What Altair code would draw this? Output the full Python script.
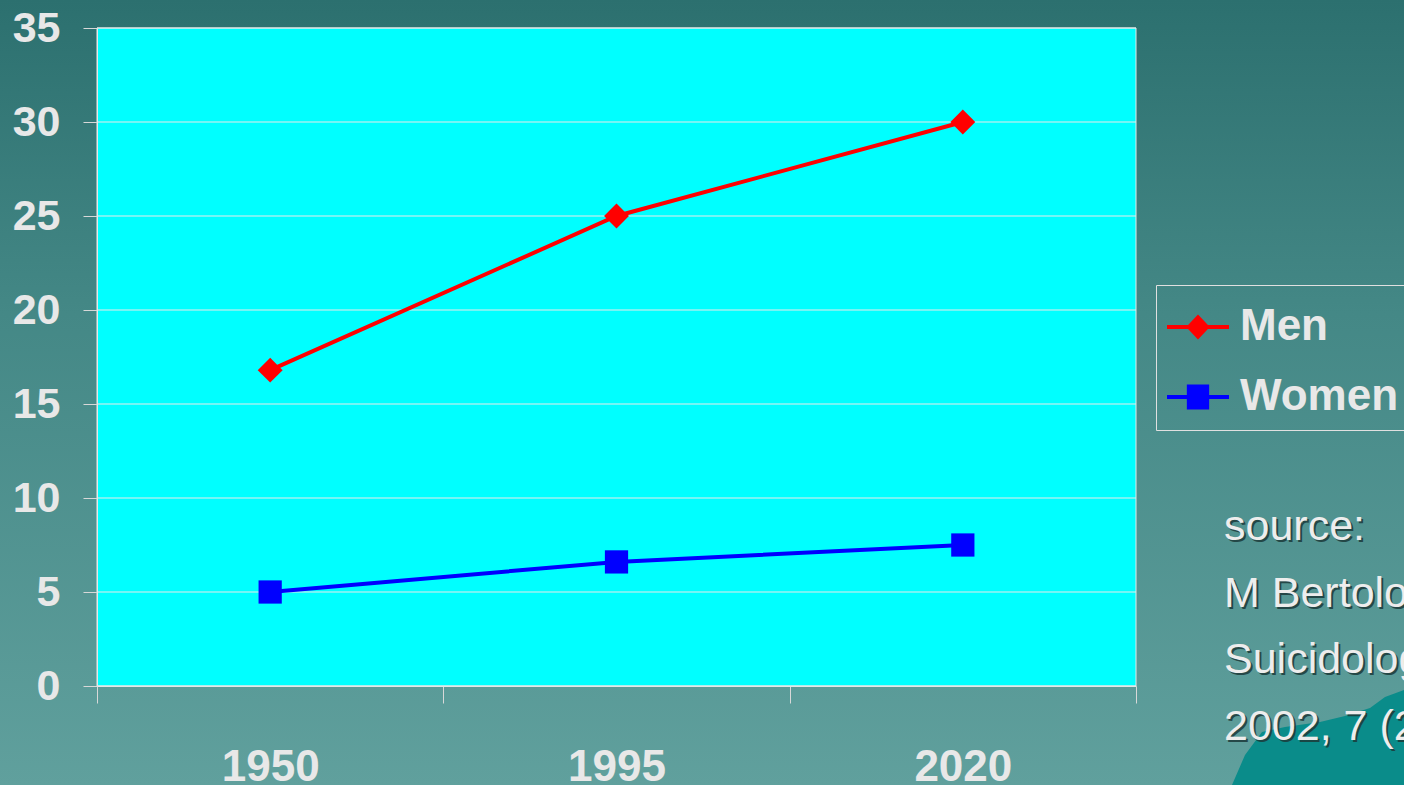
import altair as alt
import pandas as pd

years = ["1950", "1995", "2020"]
men = [16.8, 25.0, 30.0]
women = [5.0, 6.6, 7.5]
series_names = ["Men", "Women"]
series_colors = ["#FF0000", "#0000FF"]
y_ticks = [0, 5, 10, 15, 20, 25, 30, 35]
source_lines = ["source:", "M Bertolote,", "Suicidology", "2002, 7 (2)"]

rows = []
for yr, v in zip(years, men):
    rows.append({"year": yr, "series": "Men", "value": v})
for yr, v in zip(years, women):
    rows.append({"year": yr, "series": "Women", "value": v})
df = pd.DataFrame(rows)
grid_df = pd.DataFrame({"g": y_ticks})

W, H = 1039, 658
PL, PT = 97, 28
TOTAL_W, TOTAL_H = 1404, 785

BOLD_FONT = "Liberation Sans, Arial"
LABEL_COLOR = "#E8E8E8"

one = alt.Data(values=[{}])

bg = alt.Chart(one).mark_rect(
    color=alt.Gradient(
        gradient="linear",
        stops=[
            alt.GradientStop(color="#2C706F", offset=0),
            alt.GradientStop(color="#448886", offset=0.4),
            alt.GradientStop(color="#60A09D", offset=1),
        ],
        x1=0, x2=0, y1=0, y2=1,
    )
).encode(
    x=alt.value(-PL), x2=alt.value(TOTAL_W - PL),
    y=alt.value(-PT), y2=alt.value(TOTAL_H - PT),
)

# decorative teal swirl in the lower right corner of the slide (path in px, relative to plot origin)
swirl_path = ("M1135,757L1148,727L1165,704L1188,699L1223,694L1248,688"
              "L1273,680L1288,669L1307,662L1307,757Z")
swirl = alt.Chart(one).mark_point(
    shape=swirl_path, size=4, filled=True, color="#0A8C8A", opacity=1
).encode(x=alt.value(0), y=alt.value(0))

plot_bg = alt.Chart(one).mark_rect(
    fill="#00FFFF", stroke="#E6E6E6", strokeWidth=1
).encode(
    x=alt.value(0), x2=alt.value(W), y=alt.value(0), y2=alt.value(H)
)

y_scale = alt.Scale(domain=[0, 35], nice=False, zero=True)
x_scale = alt.Scale(domain=years, paddingInner=0, paddingOuter=0)
color_scale = alt.Scale(domain=series_names, range=series_colors)

x_axis = alt.Axis(
    title=None, labelAngle=0, tickBand="extent", grid=False,
    labelFont=BOLD_FONT, labelFontSize=44, labelFontWeight="bold",
    labelColor=LABEL_COLOR, labelBaseline="alphabetic", labelPadding=77,
    tickSize=17, tickColor="#D8D8D8", domainColor="#E6E6E6",
    zindex=1,
)
y_axis = alt.Axis(
    title=None, values=y_ticks, grid=False,
    labelFont=BOLD_FONT, labelFontSize=43, labelFontWeight="bold",
    labelColor=LABEL_COLOR, labelPadding=23, tickSize=14,
    tickColor="#D8D8D8", domainColor="#E6E6E6", zindex=1,
)

grid = alt.Chart(grid_df).mark_rule(color="#EAEAEA", strokeWidth=1).encode(
    y=alt.Y("g:Q", scale=y_scale, axis=y_axis)
)

diamond_path = ("M-1,-0.065L-0.32,-0.065L0,-0.4L0.32,-0.065L1,-0.065"
                "L1,0.065L0.32,0.065L0,0.4L-0.32,0.065L-1,0.065Z")
square_path = ("M-1,-0.065L-0.36,-0.065L-0.36,-0.4L0.36,-0.4L0.36,-0.065L1,-0.065"
               "L1,0.065L0.36,0.065L0.36,0.4L-0.36,0.4L-0.36,0.065L-1,0.065Z")

legend = alt.Legend(
    orient="none", legendX=1059, legendY=257, title=None,
    labelFont=BOLD_FONT, labelFontSize=44, labelFontWeight="bold",
    labelColor=LABEL_COLOR, strokeColor="#E0E0E0", padding=11,
    symbolSize=3844, symbolStrokeWidth=0, labelOffset=11, rowPadding=17,
    labelLimit=400, symbolOpacity=1,
    symbolType=alt.ExprRef(expr="datum.value === 'Men' ? '" + diamond_path + "' : '" + square_path + "'"),
    symbolFillColor=alt.ExprRef(expr="datum.value === 'Men' ? '#FF0000' : '#0000FF'"),
)

base = alt.Chart(df)
lines = base.mark_line(strokeWidth=4).encode(
    x=alt.X("year:N", scale=x_scale, axis=x_axis, sort=years),
    y=alt.Y("value:Q", scale=y_scale, axis=y_axis),
    color=alt.Color("series:N", scale=color_scale, legend=legend),
)
men_pts = base.transform_filter(alt.datum.series == "Men").mark_point(
    filled=True, size=620, opacity=1, shape="diamond"
).encode(
    x=alt.X("year:N", scale=x_scale, sort=years),
    y=alt.Y("value:Q", scale=y_scale),
    color=alt.Color("series:N", scale=color_scale, legend=legend),
)
women_pts = base.transform_filter(alt.datum.series == "Women").mark_point(
    filled=True, size=540, opacity=1, shape="square"
).encode(
    x=alt.X("year:N", scale=x_scale, sort=years),
    y=alt.Y("value:Q", scale=y_scale),
    color=alt.Color("series:N", scale=color_scale, legend=legend),
)

shadow = alt.Chart(one).mark_text(
    text=source_lines, align="left", baseline="alphabetic",
    font="Liberation Sans, Arial", fontSize=43, lineHeight=66.5,
    color="#1C3A3A", opacity=0.85,
).encode(x=alt.value(1127 + 2), y=alt.value(512 + 2))
source = alt.Chart(one).mark_text(
    text=source_lines, align="left", baseline="alphabetic",
    font="Liberation Sans, Arial", fontSize=43, lineHeight=66.5,
    color="#EDEDED",
).encode(x=alt.value(1127), y=alt.value(512))

chart = alt.layer(bg, swirl, plot_bg, grid, lines, men_pts, women_pts, shadow, source).properties(
    width=W, height=H,
    autosize=alt.AutoSizeParams(type="none"),
    padding={"left": PL, "top": PT, "right": TOTAL_W - PL - W, "bottom": TOTAL_H - PT - H},
    background="#3E8280",
).configure_view(stroke=None)

chart.save("out.html", embed_options={"renderer": "svg", "actions": False})
